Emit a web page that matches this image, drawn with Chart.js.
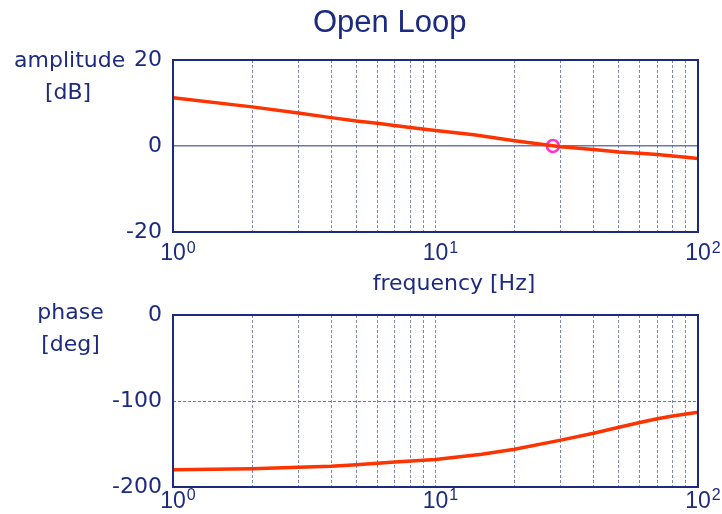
<!DOCTYPE html>
<html>
<head>
<meta charset="utf-8">
<script src="https://cdn.jsdelivr.net/npm/chart.js@4"></script>
<style>
  html, body { margin: 0; padding: 0; background: #fff; }
  #wrap { position: relative; width: 722px; height: 514px; }
  canvas { position: absolute; left: 0; }
</style>
</head>
<body>
<div id="wrap">
  <canvas id="ampChart" width="722" height="300" style="top:0"></canvas>
  <canvas id="phaseChart" width="722" height="234" style="top:280px"></canvas>
</div>
<script>
// Data
const ampFreq = [1, 2, 3, 4, 5, 6, 8, 10, 14, 20, 30, 40, 50, 60, 70, 80, 90, 100];
const ampDb = [11.2, 9.1, 7.7, 6.6, 5.8, 5.3, 4.3, 3.6, 2.6, 1.2, -0.2, -0.8, -1.4, -1.7, -2.0, -2.3, -2.6, -2.9];
const crossFreq = [28];
const crossDb = [0];
const phaseFreq = [1, 2, 3, 4, 5, 7, 10, 15, 20, 30, 40, 50, 60, 70, 80, 100];
const phaseDeg = [-180, -178.7, -177, -175.8, -174, -171, -168, -162, -156, -145.5, -137.5, -130.5, -125, -120.7, -117.4, -113];
const gridFreq = [1, 2, 3, 4, 5, 6, 7, 8, 9, 10, 20, 30, 40, 50, 60, 70, 80, 90, 100];
const decadeTicks = [1, 10, 100];
const decadeExp = ['0', '1', '2'];
const ampTicks = [-20, 0, 20];
const phaseTicks = [-200, -100, 0];

const NAVY = '#1c2b7f';
const LINE = '#ff3300';
const GRID = 'rgba(70, 85, 160, 0.7)';
const LABEL_FONT = '"DejaVu Sans", sans-serif';
const SANS = '"Liberation Sans", Arial, sans-serif';

// box around plot area, decade labels with exponent, free text
const frame = {
  id: 'frame',
  afterDraw(chart, args, opts) {
    const { ctx, chartArea: a } = chart;
    ctx.save();
    ctx.strokeStyle = NAVY;
    ctx.lineWidth = 2;
    ctx.strokeRect(a.left, a.top, a.right - a.left, a.bottom - a.top);

    ctx.fillStyle = NAVY;
    ctx.textBaseline = 'alphabetic';
    const xs = chart.scales.x;
    decadeTicks.forEach((v, i) => {
      const px = xs.getPixelForValue(v);
      ctx.font = '23px ' + SANS;
      ctx.textAlign = 'center';
      ctx.fillText('10', px, a.bottom + opts.baseDrop);
      const w = ctx.measureText('10').width;
      ctx.font = '16px ' + SANS;
      ctx.textAlign = 'left';
      ctx.fillText(decadeExp[i], px + w / 2 + 1, a.bottom + opts.expDrop);
    });

    (opts.texts || []).forEach(t => {
      ctx.font = t.font;
      ctx.textAlign = 'center';
      ctx.fillText(t.text, t.x, t.y);
    });
    ctx.restore();
  }
};

function xAxis(height) {
  return {
    type: 'logarithmic',
    min: 1,
    max: 100,
    afterBuildTicks: s => { s.ticks = gridFreq.map(v => ({ value: v })); },
    afterFit: s => { s.height = height; },
    ticks: { display: false },
    grid: { color: GRID, lineWidth: 1, drawTicks: false },
    border: { display: false, dash: [3, 2] }
  };
}

function yAxis(min, max, tickList, lineAt, dash) {
  return {
    min: min,
    max: max,
    afterBuildTicks: s => { s.ticks = tickList.map(v => ({ value: v })); },
    afterFit: s => { s.width = 173; },
    ticks: {
      color: NAVY,
      font: { family: LABEL_FONT, size: 22 },
      padding: 11
    },
    grid: {
      drawTicks: false,
      lineWidth: dash.length ? 1 : 1.5,
      color: c => (c.tick && c.tick.value === lineAt) ? 'rgba(90, 105, 170, 0.9)' : 'rgba(0,0,0,0)'
    },
    border: { display: false, dash: dash }
  };
}

const baseOptions = {
  responsive: false,
  animation: false,
  devicePixelRatio: 1
};

new Chart(document.getElementById('ampChart'), {
  type: 'line',
  data: {
    datasets: [{
      data: ampFreq.map((f, i) => ({ x: f, y: ampDb[i] })),
      borderColor: LINE,
      borderWidth: 3.5,
      pointRadius: 0,
      tension: 0
    }, {
      data: crossFreq.map((f, i) => ({ x: f, y: crossDb[i] })),
      showLine: false,
      pointStyle: 'circle',
      pointRadius: 6,
      pointBorderWidth: 2.5,
      pointBorderColor: '#ff33cc',
      pointBackgroundColor: 'rgba(0,0,0,0)'
    }]
  },
  options: Object.assign({}, baseOptions, {
    layout: { padding: { top: 60, right: 24, left: 0, bottom: 0 } },
    scales: {
      x: xAxis(68),
      y: yAxis(-20, 20, ampTicks, 0, [])
    },
    plugins: {
      legend: { display: false },
      tooltip: { enabled: false },
      frame: {
        baseDrop: 28,
        expDrop: 20.5,
        texts: [
          { text: 'Open Loop', x: 389.7, y: 31.8, font: '31px ' + SANS },
          { text: 'amplitude', x: 69.7, y: 66.7, font: '22px ' + LABEL_FONT },
          { text: '[dB]', x: 68, y: 99, font: '22px ' + LABEL_FONT },
          { text: 'frequency [Hz]', x: 454, y: 289.7, font: '22px ' + LABEL_FONT }
        ]
      }
    }
  }),
  plugins: [frame]
});

new Chart(document.getElementById('phaseChart'), {
  type: 'line',
  data: {
    datasets: [{
      data: phaseFreq.map((f, i) => ({ x: f, y: phaseDeg[i] })),
      borderColor: LINE,
      borderWidth: 3.5,
      pointRadius: 0,
      tension: 0
    }]
  },
  options: Object.assign({}, baseOptions, {
    layout: { padding: { top: 35, right: 24, left: 0, bottom: 0 } },
    scales: {
      x: xAxis(27),
      y: yAxis(-200, 0, phaseTicks, -100, [3, 2])
    },
    plugins: {
      legend: { display: false },
      tooltip: { enabled: false },
      frame: {
        baseDrop: 21,
        expDrop: 12.5,
        texts: [
          { text: 'phase', x: 70.5, y: 39, font: '22px ' + LABEL_FONT },
          { text: '[deg]', x: 70.5, y: 71, font: '22px ' + LABEL_FONT }
        ]
      }
    }
  }),
  plugins: [frame]
});
</script>
</body>
</html>
